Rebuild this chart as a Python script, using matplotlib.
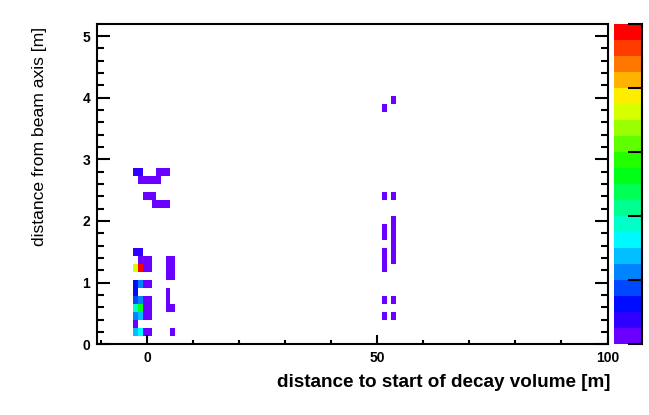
import numpy as np
import matplotlib
matplotlib.use("Agg")
import matplotlib.pyplot as plt
from matplotlib.colors import ListedColormap, BoundaryNorm, hsv_to_rgb

# hits: x [m], y [m], entries   (one per filled cell)
hit_x = [
    # y ~ 2.8 .. 2.27, upper group near 0
    -2.5, -1.5, 2.5, 3.5, 4.5,
    -1.5, -0.5, 0.5, 1.5, 2.5,
    -0.5, 0.5, 1.5,
    1.5, 2.5, 3.5, 4.5,
    # lower group near 0
    -2.5, -1.5,
    -1.5, -0.5, 0.5, 4.5, 5.5,
    -2.5, -1.5, -0.5, 0.5, 4.5, 5.5,
    4.5, 5.5,
    -2.5, -1.5, -0.5, 0.5,
    -2.5, 4.5,
    -2.5, -1.5, -0.5, 0.5, 4.5,
    -2.5, -1.5, -0.5, 0.5, 4.5, 5.5,
    -2.5, -1.5, -0.5, 0.5,
    -2.5,
    -2.5, -1.5, -0.5, 0.5, 5.5,
    # group near 50 m
    53.5, 51.5,
    51.5, 53.5,
    53.5, 53.5, 53.5, 53.5, 53.5, 53.5,
    51.5, 51.5,
    51.5, 51.5, 51.5,
    51.5, 53.5,
    51.5, 53.5,
]
hit_y = [
    2.8, 2.8, 2.8, 2.8, 2.8,
    2.67, 2.67, 2.67, 2.67, 2.67,
    2.4, 2.4, 2.4,
    2.27, 2.27, 2.27, 2.27,
    1.5, 1.5,
    1.36, 1.36, 1.36, 1.36, 1.36,
    1.23, 1.23, 1.23, 1.23, 1.23, 1.23,
    1.1, 1.1,
    0.97, 0.97, 0.97, 0.97,
    0.84, 0.84,
    0.71, 0.71, 0.71, 0.71, 0.71,
    0.58, 0.58, 0.58, 0.58, 0.58, 0.58,
    0.45, 0.45, 0.45, 0.45,
    0.32,
    0.19, 0.19, 0.19, 0.19, 0.19,
    3.96, 3.83,
    2.4, 2.4,
    1.36, 1.49, 1.62, 1.75, 1.88, 2.01,
    1.75, 1.88,
    1.23, 1.36, 1.49,
    0.71, 0.71,
    0.45, 0.45,
]
hit_n = [
    2, 2, 1, 1, 1,
    1, 1, 1, 1, 1,
    1, 1, 1,
    1, 1, 1, 1,
    2, 2,
    1, 1, 1, 1, 1,
    15, 20, 1, 1, 1, 1,
    1, 1,
    3, 5, 1, 1,
    3, 1,
    4, 5, 1, 1, 1,
    8, 11, 1, 1, 1, 1,
    5, 6, 1, 1,
    1,
    6, 7, 1, 1, 1,
    1, 1,
    1, 1,
    1, 1, 1, 1, 1, 1,
    1, 1,
    1, 1, 1,
    1, 1,
    1, 1,
]

x_edges = np.arange(-11, 101, 1.0)
y_edges = np.linspace(0, 5.2, 41)

# ROOT-like rainbow palette, 20 contours
n_lev = 20
hues = np.linspace(265, 0, n_lev) / 360.0
pal = hsv_to_rgb(np.column_stack([hues, np.ones(n_lev), np.ones(n_lev)]))
cmap = ListedColormap(pal)
norm = BoundaryNorm(np.arange(0.5, n_lev + 1, 1), cmap.N)

H, _, _ = np.histogram2d(hit_x, hit_y, bins=[x_edges, y_edges], weights=hit_n)
H = np.ma.masked_equal(H, 0)

fig = plt.figure(figsize=(6.49, 4.15), dpi=100)
ax = fig.add_axes([96.5 / 649, 1 - 344.3 / 415, 511 / 649, 320 / 415])
cax = fig.add_axes([613.5 / 649, 1 - 344.3 / 415, 28 / 649, 320 / 415])

mesh = ax.pcolormesh(x_edges, y_edges, H.T, cmap=cmap, norm=norm)
ax.set_xlim(-11, 100)
ax.set_ylim(0, 5.19)

lw = 1.5
for s in ax.spines.values():
    s.set_linewidth(lw)
ax.set_xticks([0, 50, 100])
ax.set_xticks(np.arange(-10, 101, 10), minor=True)
ax.set_yticks(np.arange(0, 6, 1))
ax.set_yticks(np.arange(0, 5.2, 0.2), minor=True)
ax.tick_params(which="both", direction="in", width=lw, right=True, top=False,
               labelsize=10)
ax.tick_params(axis="x", which="major", length=6.5, pad=5)
ax.tick_params(axis="x", which="minor", length=3)
ax.tick_params(axis="y", which="major", length=9.5, pad=4.5)
ax.tick_params(axis="y", which="minor", length=5)
for lab in ax.get_xticklabels() + ax.get_yticklabels():
    lab.set_fontfamily("Liberation Sans")
    lab.set_fontweight("bold")

cb = fig.colorbar(mesh, cax=cax)
cb.outline.set_visible(False)
cax.spines["right"].set_visible(True)
cax.spines["right"].set_linewidth(lw)
cb.set_ticks(np.arange(0.5, n_lev + 1, 4))
cax.minorticks_off()
cax.tick_params(direction="in", length=10, width=lw, labelright=False)

fig.text(610 / 649, 1 - 387 / 415, "distance to start of decay volume [m]",
         ha="right", va="baseline", fontsize=13.6, fontweight="bold",
         family="Liberation Sans")
fig.text(39.5 / 649, 1 - 27 / 415, "distance from beam axis [m]",
         rotation=90, ha="center", va="top", fontsize=12.6,
         family="Liberation Sans")

fig.savefig("out.png", dpi=100)
